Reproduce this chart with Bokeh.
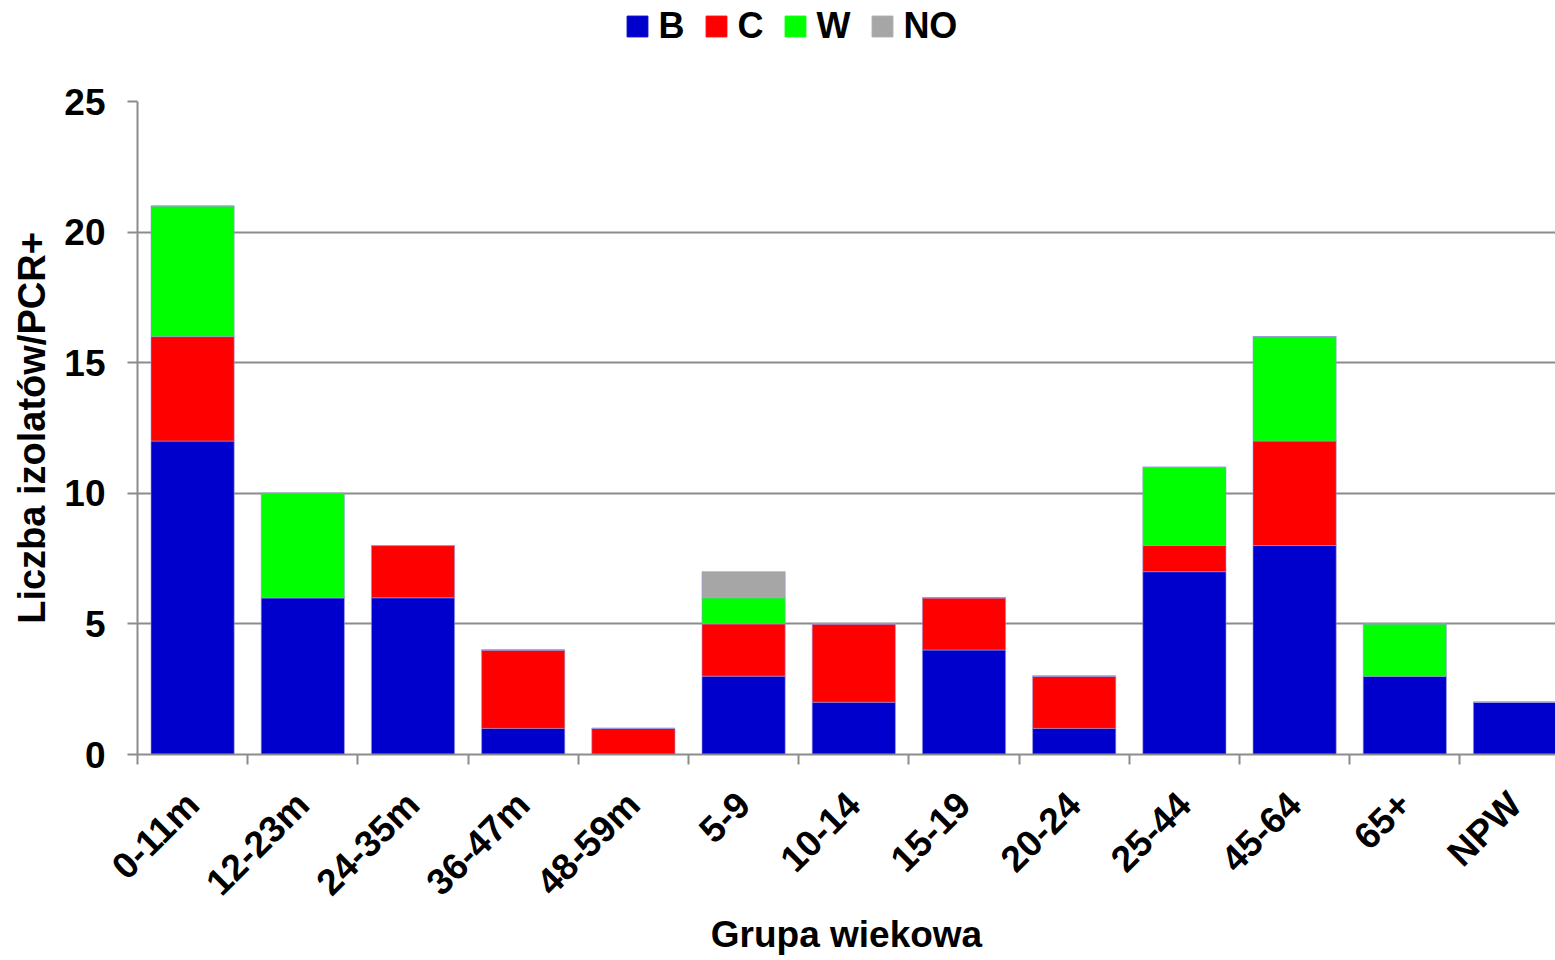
from bokeh.plotting import figure
from bokeh.layouts import column
from bokeh.models import FixedTicker, Range1d, Legend, LegendItem, ColumnDataSource
from bokeh.embed import file_html
from bokeh.resources import INLINE
import math

categories = ["0-11m", "12-23m", "24-35m", "36-47m", "48-59m", "5-9", "10-14",
              "15-19", "20-24", "25-44", "45-64", "65+", "NPW"]
B = [12, 6, 6, 1, 0, 3, 2, 4, 1, 7, 8, 3, 2]
C = [4, 0, 2, 3, 1, 2, 3, 2, 2, 1, 4, 0, 0]
W = [5, 4, 0, 0, 0, 1, 0, 0, 0, 3, 4, 2, 0]
NO = [0, 0, 0, 0, 0, 1, 0, 0, 0, 0, 0, 0, 0]
series = ["B", "C", "W", "NO"]
colors = ["#0000CC", "#FF0000", "#00FF00", "#A6A6A6"]
y_ticks = [0, 5, 10, 15, 20, 25]

FONT = "Liberation Sans"
TICK_FS = "37px"
TITLE_FS = "37px"
xs = [i + 0.5 for i in range(len(categories))]
src = ColumnDataSource(dict(x=xs, B=B, C=C, W=W, NO=NO))

W_FIG = 1555
LEFT = 137

# ---- legend strip (hidden copies of the stacked bars feed the legend swatches) ----
lg = figure(width=W_FIG, height=73, output_backend="svg", toolbar_location=None,
            x_range=Range1d(0, 12.8), y_range=Range1d(0, 25),
            min_border=0, min_border_left=LEFT, min_border_right=0,
            min_border_top=0, min_border_bottom=0)
lg.outline_line_color = None
lg.axis.visible = False
lg.grid.visible = False
lg_r = lg.vbar_stack(series, x="x", width=0.755, source=src, color=colors)
for r in lg_r:
    r.visible = False
legend = Legend(items=[LegendItem(label=s, renderers=[r]) for s, r in zip(series, lg_r)],
                orientation="horizontal", location=(627 - 2.6 - LEFT, 26),
                label_text_font=FONT, label_text_font_style="bold",
                label_text_font_size="36px", label_text_color="black",
                glyph_width=26, glyph_height=26, label_standoff=8, spacing=19,
                padding=0, margin=0, border_line_color=None,
                background_fill_alpha=0, inactive_fill_alpha=0)
lg.add_layout(legend, "center")

# ---- main chart ----
p = figure(frame_width=W_FIG - LEFT, frame_height=653, output_backend="svg",
           toolbar_location=None,
           x_range=Range1d(0, (W_FIG - LEFT) / 110.2), y_range=Range1d(0, 25),
           min_border_left=LEFT, min_border_right=0, min_border_top=28,
           min_border_bottom=206)
p.outline_line_color = None

p.vbar_stack(series, x="x", width=0.755, source=src, color=colors,
             line_color="#9999dd", line_width=0.6)

# grid
p.xgrid.grid_line_color = None
p.ygrid.grid_line_color = "#8c8c8c"
p.ygrid.grid_line_width = 2
p.ygrid.ticker = FixedTicker(ticks=y_ticks)

# y axis
p.yaxis.ticker = FixedTicker(ticks=y_ticks)
p.yaxis.axis_line_color = "#8c8c8c"
p.yaxis.axis_line_width = 2
p.yaxis.major_tick_line_color = "#8c8c8c"
p.yaxis.major_tick_line_width = 2
p.yaxis.major_tick_out = 10
p.yaxis.major_tick_in = 0
p.yaxis.minor_tick_line_color = None
p.yaxis.major_label_text_font = FONT
p.yaxis.major_label_text_font_style = "bold"
p.yaxis.major_label_text_font_size = TICK_FS
p.yaxis.major_label_text_color = "black"
p.yaxis.major_label_standoff = 22
p.yaxis.axis_label = "Liczba izolatów/PCR+"
p.yaxis.axis_label_text_font = FONT
p.yaxis.axis_label_text_font_style = "bold"
p.yaxis.axis_label_text_font_size = "38px"
p.yaxis.axis_label_text_color = "black"
p.yaxis.axis_label_standoff = 8

# x axis
p.xaxis.ticker = FixedTicker(ticks=xs, minor_ticks=list(range(len(categories) + 1)))
p.xaxis.major_label_overrides = {x: c for x, c in zip(xs, categories)}
p.xaxis.axis_line_color = "#8c8c8c"
p.xaxis.axis_line_width = 2
p.xaxis.major_tick_line_color = None
p.xaxis.major_tick_out = 10
p.xaxis.major_tick_in = 0
p.xaxis.minor_tick_line_color = "#8c8c8c"
p.xaxis.minor_tick_line_width = 2
p.xaxis.minor_tick_out = 10
p.xaxis.minor_tick_in = 0
p.xaxis.major_label_orientation = math.pi / 4
p.xaxis.major_label_text_font = FONT
p.xaxis.major_label_text_font_style = "bold"
p.xaxis.major_label_text_font_size = TICK_FS
p.xaxis.major_label_text_color = "black"
p.xaxis.major_label_standoff = 34
p.xaxis.axis_label = "Grupa wiekowa"
p.xaxis.axis_label_text_font = FONT
p.xaxis.axis_label_text_font_style = "bold"
p.xaxis.axis_label_text_font_size = TITLE_FS
p.xaxis.axis_label_text_color = "black"
p.xaxis.axis_label_standoff = -7

layout = column(lg, p, spacing=0)
open("out.html", "w").write(file_html(layout, INLINE))
